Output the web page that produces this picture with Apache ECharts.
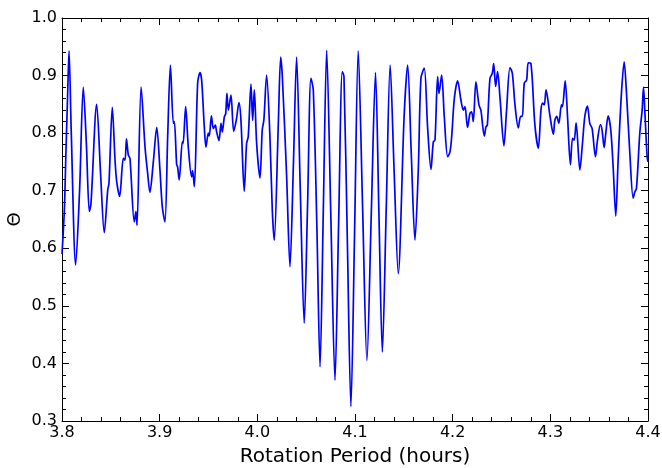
<!DOCTYPE html>
<html>
<head>
<meta charset="utf-8">
<script src="https://cdn.jsdelivr.net/npm/echarts@6/dist/echarts.min.js"></script>
<style>
html,body{margin:0;padding:0;background:#fff;}
#chart{width:662px;height:468px;}
</style>
</head>
<body>
<div id="chart"></div>
<script>
var periods = [
3.8000,3.8024,3.8041,3.8058,3.8072,3.8095,3.8140,3.8180,3.8218,3.8250,3.8280,3.8297,3.8355,3.8395,3.8433,3.8468,3.8481,3.8515,
3.8543,3.8560,3.8590,3.8628,3.8645,3.8660,3.8679,3.8696,3.8740,3.8757,3.8768,3.8810,3.8850,3.8877,3.8900,3.8935,3.8970,
3.9003,3.9027,3.9054,3.9082,3.9110,3.9140,3.9150,3.9174,3.9183,3.9200,3.9232,3.9240,3.9266,3.9293,3.9327,3.9337,3.9355,
3.9389,3.9413,3.9430,3.9457,3.9474,3.9498,3.9508,3.9530,3.9549,3.9570,3.9580,3.9607,3.9628,3.9641,3.9662,3.9676,3.9689,
3.9703,3.9730,3.9758,3.9785,3.9812,3.9832,3.9866,3.9890,3.9907,3.9935,3.9952,3.9969,3.9993,4.0027,
4.0050,4.0067,4.0095,4.0129,4.0153,4.0173,4.0215,4.0239,4.0256,4.0300,4.0334,4.0370,4.0402,4.0440,4.0480,4.0515,4.0549,
4.0573,4.0610,4.0642,4.0676,4.0710,4.0752,4.0795,4.0832,4.0870,4.0887,4.0922,4.0958,4.0996,4.1033,
4.1078,4.1122,4.1166,4.1210,4.1245,4.1280,4.1320,4.1360,4.1400,4.1443,4.1503,4.1539,4.1575,4.1614,4.1648,4.1675,4.1709,
4.1743,4.1778,4.1802,4.1819,4.1846,4.1860,4.1887,4.1914,4.1949,4.1973,4.1990,4.2017,4.2051,
4.2084,4.2109,4.2126,4.2152,4.2177,4.2194,4.2211,4.2238,4.2269,4.2289,4.2324,4.2341,4.2355,4.2382,4.2406,4.2420,4.2440,
4.2460,4.2484,4.2525,4.2552,4.2587,4.2611,4.2638,4.2672,4.2696,4.2713,4.2733,4.2757,4.2774,4.2801,4.2842,4.2877,4.2904,
4.2921,4.2938,4.2956,4.2997,4.3031,4.3046,
4.3066,4.3087,4.3114,4.3124,4.3152,4.3176,4.3206,4.3227,4.3244,4.3264,4.3302,4.3329,4.3353,4.3380,4.3404,4.3428,4.3462,
4.3483,4.3513,4.3530,4.3551,4.3568,4.3592,4.3619,4.3643,4.3670,4.3694,4.3728,4.3756,4.3780,4.3814,4.3848,4.3865,4.3882,
4.3916,4.3940,4.3954,4.3967,4.3991,4.4000
];
var theta = [
0.590,0.666,0.771,0.869,0.943,0.800,0.571,0.700,0.880,0.780,0.664,0.678,0.850,0.730,0.627,0.701,0.713,0.845,
0.753,0.716,0.690,0.756,0.753,0.790,0.762,0.756,0.646,0.664,0.640,0.880,0.776,0.730,0.697,0.750,0.810,
0.736,0.672,0.646,0.794,0.918,0.817,0.820,0.745,0.742,0.719,0.785,0.782,0.846,0.776,0.724,0.735,0.707,
0.887,0.905,0.892,0.811,0.776,0.800,0.795,0.830,0.808,0.814,0.805,0.787,0.817,0.802,0.828,0.834,0.869,
0.840,0.866,0.803,0.823,0.853,0.823,0.699,0.782,0.794,0.885,0.822,0.875,0.782,0.722,
0.805,0.823,0.901,0.794,0.667,0.614,0.817,0.932,0.898,0.725,0.568,0.750,0.932,0.700,0.470,0.680,0.895,
0.875,0.635,0.394,0.670,0.944,0.660,0.371,0.640,0.907,0.898,0.610,0.325,0.630,0.943,
0.670,0.405,0.655,0.905,0.660,0.420,0.670,0.918,0.737,0.556,0.829,0.918,0.770,0.614,0.736,0.895,0.913,
0.811,0.737,0.785,0.788,0.898,0.869,0.901,0.829,0.759,0.768,0.794,0.860,0.891,
0.858,0.840,0.846,0.810,0.834,0.837,0.820,0.889,0.849,0.840,0.795,0.811,0.814,0.895,0.904,0.921,0.881,
0.907,0.863,0.778,0.840,0.914,0.904,0.849,0.809,0.829,0.829,0.887,0.892,0.922,0.921,0.814,0.774,0.840,
0.852,0.849,0.875,0.829,0.798,0.822,
0.829,0.817,0.849,0.846,0.891,0.829,0.745,0.791,0.788,0.818,0.736,0.782,0.829,0.847,0.817,0.808,0.759,
0.788,0.815,0.805,0.775,0.800,0.830,0.805,0.742,0.656,0.753,0.869,0.924,0.869,0.765,0.687,0.698,0.704,
0.800,0.840,0.880,0.840,0.759,0.750
];
var xTickMin = 3.8, xTickMax = 4.4, xTickStep = 0.1;
var yTickMin = 0.3, yTickMax = 1.0, yTickStep = 0.1;
var xTitle = 'Rotation Period (hours)';
var yTitle = 'Θ';

var pts = periods.map(function(p, i){ return [p, theta[i]]; });
var font = 'DejaVu Sans';
function fmt(v){ return (Math.round(v*10)/10).toFixed(1); }

var baseAxis = {
  axisLine: {show: true, onZero: false, lineStyle: {color: '#000', width: 1}},
  axisTick: {show: true, inside: true, length: 7, lineStyle: {color: '#000', width: 1}},
  minorTick: {show: true, splitNumber: 5, length: 4, lineStyle: {color: '#000', width: 1}},
  splitLine: {show: false}
};
function ax(extra){ return Object.assign({}, JSON.parse(JSON.stringify(baseAxis)), extra); }

var chart = echarts.init(document.getElementById('chart'), null, {renderer: 'canvas'});
chart.setOption({
  animation: false,
  backgroundColor: '#fff',
  grid: {left: 62, right: 14, top: 18, bottom: 47, containLabel: false, outerBoundsMode: 'none'},
  xAxis: [
    ax({type: 'value', position: 'bottom', min: xTickMin, max: xTickMax, interval: xTickStep,
      name: xTitle, nameLocation: 'middle', nameGap: 26, nameMoveOverlap: false,
      nameTextStyle: {fontFamily: font, fontSize: 20, color: '#000'},
      axisLabel: {show: true, margin: 4, fontFamily: font, fontSize: 16, color: '#000', formatter: fmt}}),
    ax({type: 'value', position: 'top', min: xTickMin, max: xTickMax, interval: xTickStep,
      axisLabel: {show: false}})
  ],
  yAxis: [
    ax({type: 'value', position: 'left', min: yTickMin, max: yTickMax, interval: yTickStep,
      name: yTitle, nameLocation: 'middle', nameGap: 47, nameRotate: 90, nameMoveOverlap: false,
      nameTextStyle: {fontFamily: font, fontSize: 18, color: '#000', align: 'center', verticalAlign: 'middle'},
      axisLabel: {show: true, margin: 5, fontFamily: font, fontSize: 16, color: '#000', formatter: fmt}}),
    ax({type: 'value', position: 'right', min: yTickMin, max: yTickMax, interval: yTickStep,
      axisLabel: {show: false}})
  ],
  series: [{
    type: 'line',
    data: pts,
    xAxisIndex: 0, yAxisIndex: 0,
    showSymbol: false,
    smooth: 0.3,
    lineStyle: {color: '#0000ff', width: 1.7},
    clip: true
  }]
});
</script>
</body>
</html>
